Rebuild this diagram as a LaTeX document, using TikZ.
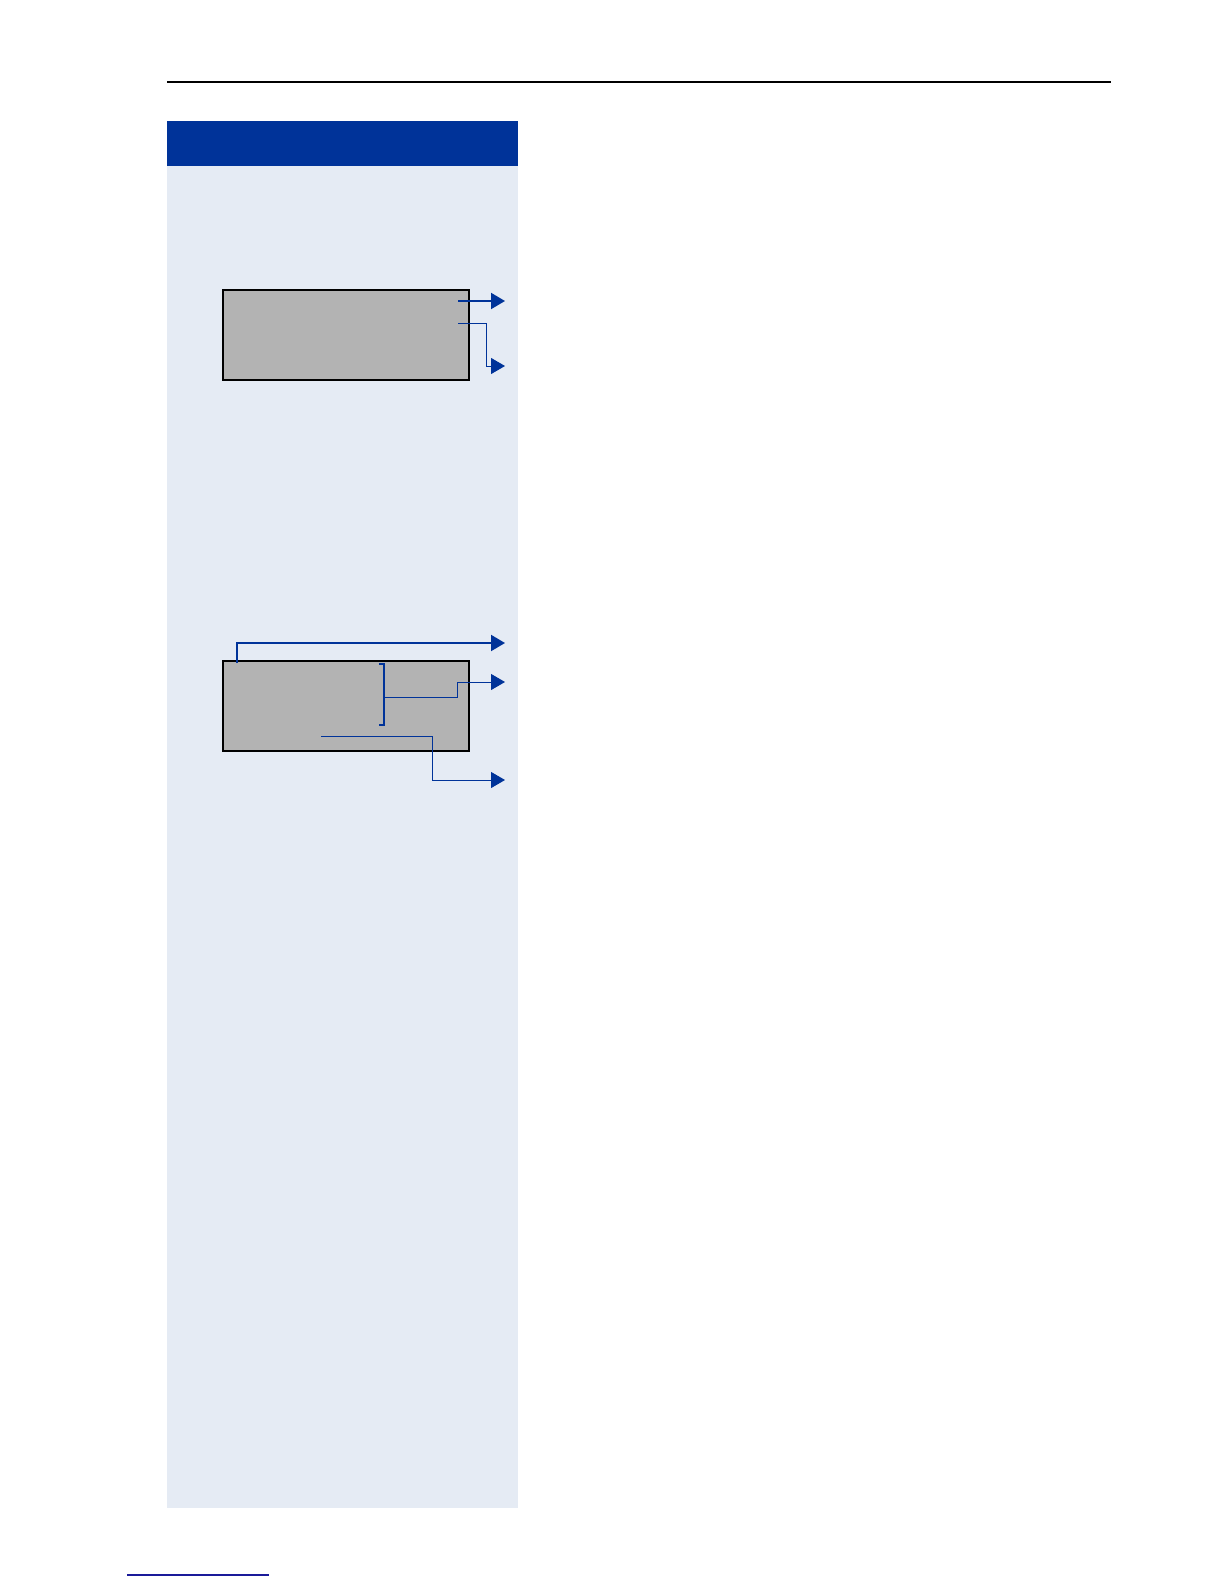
\documentclass[tikz,border=0pt]{standalone}
\usetikzlibrary{arrows.meta}
\definecolor{hdrblue}{HTML}{003399}
\definecolor{panel}{HTML}{E5EBF4}
\definecolor{lcd}{HTML}{B3B3B3}
\definecolor{navy}{HTML}{1A1A99}
\tikzset{
  display/.style={draw=black, line width=0.7pt, fill=lcd, minimum width=123pt, minimum height=45pt, inner sep=0pt, outer sep=0pt},
  lead/.style={draw=hdrblue, line width=0.5pt, -{Triangle[length=7pt,width=8pt]}},
  leadthick/.style={lead, line width=1pt},
  plain/.style={draw=hdrblue, line width=0.6pt}
}
\begin{document}
\begin{tikzpicture}[x=0.5pt,y=-0.5pt]
\useasboundingbox (0,0) rectangle (1224,1584);
\fill[white] (0,0) rectangle (1224,1584);
% top rule
\draw[black, line width=0.6pt] (167,82) -- (1111,82);
% side panel
\fill[panel] (167,166) rectangle (518,1508);
\fill[hdrblue] (167,121) rectangle (518,166);
% bottom link line
\draw[navy, line width=0.6pt] (127,1575) -- (269,1575);

% display 1
\node[display, anchor=north west] (d1) at (223,290) {};
\draw[black, line width=1pt] (d1.north east) -- (d1.south east) -- (d1.south west);
\coordinate (a1s) at (458,301);
\coordinate (a1e) at (505,301);
\coordinate (a2s) at (458,323);
\coordinate (a2e) at (505,366);
\draw[leadthick] (a1s) -- (a1e);
\draw[lead] (a2s) -- (486,323) |- (a2e);

% display 2
\node[display, anchor=north west] (d2) at (223,661) {};
\draw[black, line width=1pt] (d2.north east) -- (d2.south east) -- (d2.south west);
\coordinate (b1s) at (237,663);
\coordinate (b1e) at (505,643);
\draw[leadthick] (b1s) |- (b1e);
% bracket
\coordinate (brt) at (379,664);
\coordinate (brb) at (379,725);
\draw[plain, line width=0.8pt] (brt) -- (384,664) -- (384,725) -- (brb);
\coordinate (b2s) at (384,697);
\coordinate (b2e) at (505,682);
\draw[lead] (b2s) -- (457,697) |- (b2e);
\coordinate (b3s) at (321,736);
\coordinate (b3e) at (505,780);
\draw[lead] (b3s) -- (432,736) |- (b3e);
\end{tikzpicture}
\end{document}
